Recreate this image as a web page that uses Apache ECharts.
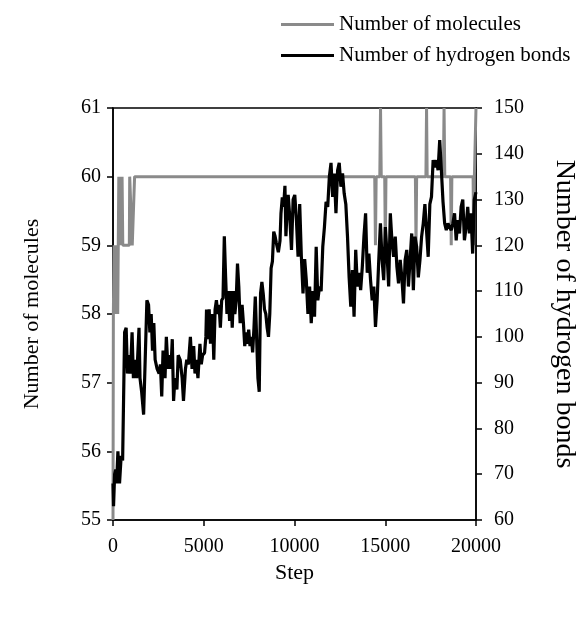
<!DOCTYPE html>
<html>
<head>
<meta charset="utf-8">
<script src="https://cdn.jsdelivr.net/npm/echarts@6/dist/echarts.min.js"></script>
<style>
html,body{margin:0;padding:0;background:#fff;}
#chart{width:586px;height:618px;}
</style>
</head>
<body>
<div id="chart"></div>
<script>
// Number of molecules vs step (gray)
var molPoints = [
  [0,55],[20,58],[60,59],[100,58],[140,59],[180,58],[220,59],[260,58],[290,59],
  [320,60],[350,59],[380,60],[410,59],[440,60],[470,59],[500,60],[540,59],
  [900,59],[920,60],[1030,60],[1060,59],[1160,59],[1190,60],
  [14420,60],[14460,59],[14500,60],[14700,60],[14740,61],[14780,60],
  [14970,60],[15005,59],[15040,60],[16660,60],[16695,59],[16730,60],
  [17240,60],[17276,61],[17310,60],[18200,60],[18240,61],[18280,60],
  [18600,60],[18636,59],[18670,60],[19840,60],[19873,59],[19910,60],
  [19960,60],[20000,61]
];
// Number of hydrogen bonds vs step (black)
var hbPoints = [
  [0,68],[30,63],[90,70],[150,71],[200,68],[270,75],[360,68],[450,74],[530,73],
  [640,101],[725,102],[797,92],[888,96],[961,92],[1051,101],[1124,91],[1233,95],
  [1305,91],[1433,102],[1487,91],[1578,88],[1687,83],[1868,108],[1959,107],
  [2031,101],[2104,105],[2177,97],[2249,103],[2322,95],[2431,93],[2540,92],
  [2612,94],[2685,87],[2758,97],[2866,91],[2939,100],[3030,93],[3121,96],
  [3193,93],[3266,99.5],[3338,86],[3411,91],[3520,88.5],[3592,96],[3701,95],
  [3810,91],[3883,86],[3992,93],[4064,95],[4155,94],[4264,100],[4355,93],
  [4445,98],[4518,92],[4591,95],[4681,91],[4790,98.5],[4863,94],[4936,96],
  [5044,96.5],[5117,100],[5153,106],[5226,99.5],[5299,106],[5371,98.5],
  [5480,105],[5553,95],[5625,106],[5698,108],[5770,105],[5843,107],[5916,102],
  [5988,108],[6061,108.5],[6133,122],[6206,113],[6279,105],[6351,110],
  [6424,103.5],[6496,110],[6569,102],[6642,110],[6714,105],[6787,108],
  [6859,116],[6932,111],[7005,103],[7113,107],[7186,103],[7259,98],[7331,101],
  [7404,98.5],[7477,101.6],[7549,98],[7622,100],[7694,96.6],[7767,102],
  [7840,108.8],[7912,100],[7985,91],[8057,88],[8130,109.5],[8203,112],
  [8275,109.5],[8348,106],[8420,105],[8493,102],[8566,100],[8638,105],
  [8711,115],[8783,116.5],[8856,123],[8929,122],[9001,120.5],[9110,118.5],
  [9201,121],[9255,127],[9328,130.5],[9400,128.4],[9473,133],[9527,122],
  [9600,128.4],
  [9652,131],[9743,126],[9834,119],[9924,130],[10015,131],[10106,125.5],
  [10197,117.5],[10287,129],[10378,117.5],[10469,109.5],[10560,117],
  [10650,112.4],[10741,105],[10832,111],[10923,103],[11013,110],[11104,104.4],
  [11195,119.7],[11286,108],[11376,111],[11467,110],[11558,119.7],[11649,124],
  [11739,129.5],[11830,128.4],[11921,135],[12012,138],[12102,130.6],
  [12193,135.7],[12284,127],[12375,136.4],[12465,138],[12556,132.8],
  [12647,135.7],[12738,131.3],[12828,129],[12919,122],[13010,113],
  [13101,106.6],[13191,114.6],[13282,104.4],[13373,119],[13464,111],
  [13554,114],[13645,110.2],[13736,115.3],[13827,122],[13917,127],[14008,114],
  [14099,118.2],[14190,112.4],[14280,108],[14371,111],[14462,102.2],
  [14553,108],[14643,116.8],[14734,124.8],[14825,116.8],[14916,112.4],
  [15006,124],[15097,118.2],[15188,111],[15279,127],[15369,121],[15460,117.5],
  [15551,121.9],[15642,115.3],[15732,111.7],[15823,116.8],[15914,113],
  [16005,107.3],[16095,116.8],[16186,119],[16277,111],[16368,116.8],
  [16458,122.6],[16549,110.2],[16640,121.9],[16731,119.7],[16821,113],
  [16912,116.8],[17003,121.9],[17094,124.8],[17184,129],[17275,129],
  [17366,117.5],[17457,129],[17547,130.6],[17638,138.6],[17729,137],
  [17820,138.6],[17910,136.4],[18001,143],[18092,136.4],[18183,129.5],
  [18273,124.8],[18364,123.3],[18455,124.8],[18546,124],[18636,123.3],
  [18727,124.8],[18818,127],[18909,121.1],[18999,125.5],[19090,122.6],
  [19181,128.4],[19272,130],[19362,121.1],[19453,124],[19544,128.4],
  [19635,122.6],[19725,127],[19816,118.2],[19907,130],[19997,131.6]
];
var seriesNames = ['Number of molecules', 'Number of hydrogen bonds'];
var xName = 'Step';

var FONT = 'Liberation Serif';
var chart = echarts.init(document.getElementById('chart'));
var axisLine = {show: true, lineStyle: {color: '#000', width: 1.5}};
var tick = {show: true, inside: false, length: 6, lineStyle: {color: '#000', width: 1.5}};
var lbl = {color: '#000', fontFamily: FONT, fontSize: 20, formatter: function (v) { return String(v); }};
chart.setOption({
  animation: false,
  backgroundColor: '#fff',
  grid: {left: 113, right: 106, top: 108, bottom: 98, show: true, borderColor: '#000', borderWidth: 1.5, backgroundColor: 'transparent'},
  legend: {
    orient: 'vertical', left: 276, top: 9, itemGap: 10,
    itemWidth: 53, itemHeight: 3, icon: 'rect',
    textStyle: {color: '#000', fontFamily: FONT, fontSize: 21},
    data: seriesNames
  },
  xAxis: {
    type: 'value', min: 0, max: 20000, interval: 5000,
    axisLine: axisLine, axisTick: tick, splitLine: {show: false},
    axisLabel: Object.assign({}, lbl, {margin: 17}),
    name: xName, nameLocation: 'middle', nameGap: 41,
    nameTextStyle: {color: '#000', fontFamily: FONT, fontSize: 22}
  },
  yAxis: [{
    type: 'value', min: 55, max: 61, interval: 1, position: 'left',
    axisLine: axisLine, axisTick: tick, splitLine: {show: false},
    axisLabel: Object.assign({}, lbl, {margin: 12}),
    name: seriesNames[0], nameLocation: 'middle', nameGap: 70, nameRotate: 90,
    nameTextStyle: {color: '#000', fontFamily: FONT, fontSize: 22}
  }, {
    type: 'value', min: 60, max: 150, interval: 10, position: 'right',
    axisLine: axisLine, axisTick: tick, splitLine: {show: false},
    axisLabel: Object.assign({}, lbl, {margin: 18}),
    name: seriesNames[1], nameLocation: 'middle', nameGap: 74, nameRotate: -90,
    nameTextStyle: {color: '#000', fontFamily: FONT, fontSize: 28}
  }],
  series: [{
    name: seriesNames[0], type: 'line', yAxisIndex: 0,
    data: molPoints, showSymbol: false, symbol: 'none', z: 2,
    lineStyle: {color: '#8a8a8a', width: 3}, itemStyle: {color: '#8a8a8a'}
  }, {
    name: seriesNames[1], type: 'line', yAxisIndex: 1,
    data: hbPoints, showSymbol: false, symbol: 'none', z: 3,
    lineStyle: {color: '#000', width: 3.2}, itemStyle: {color: '#000'}
  }]
});
</script>
</body>
</html>
